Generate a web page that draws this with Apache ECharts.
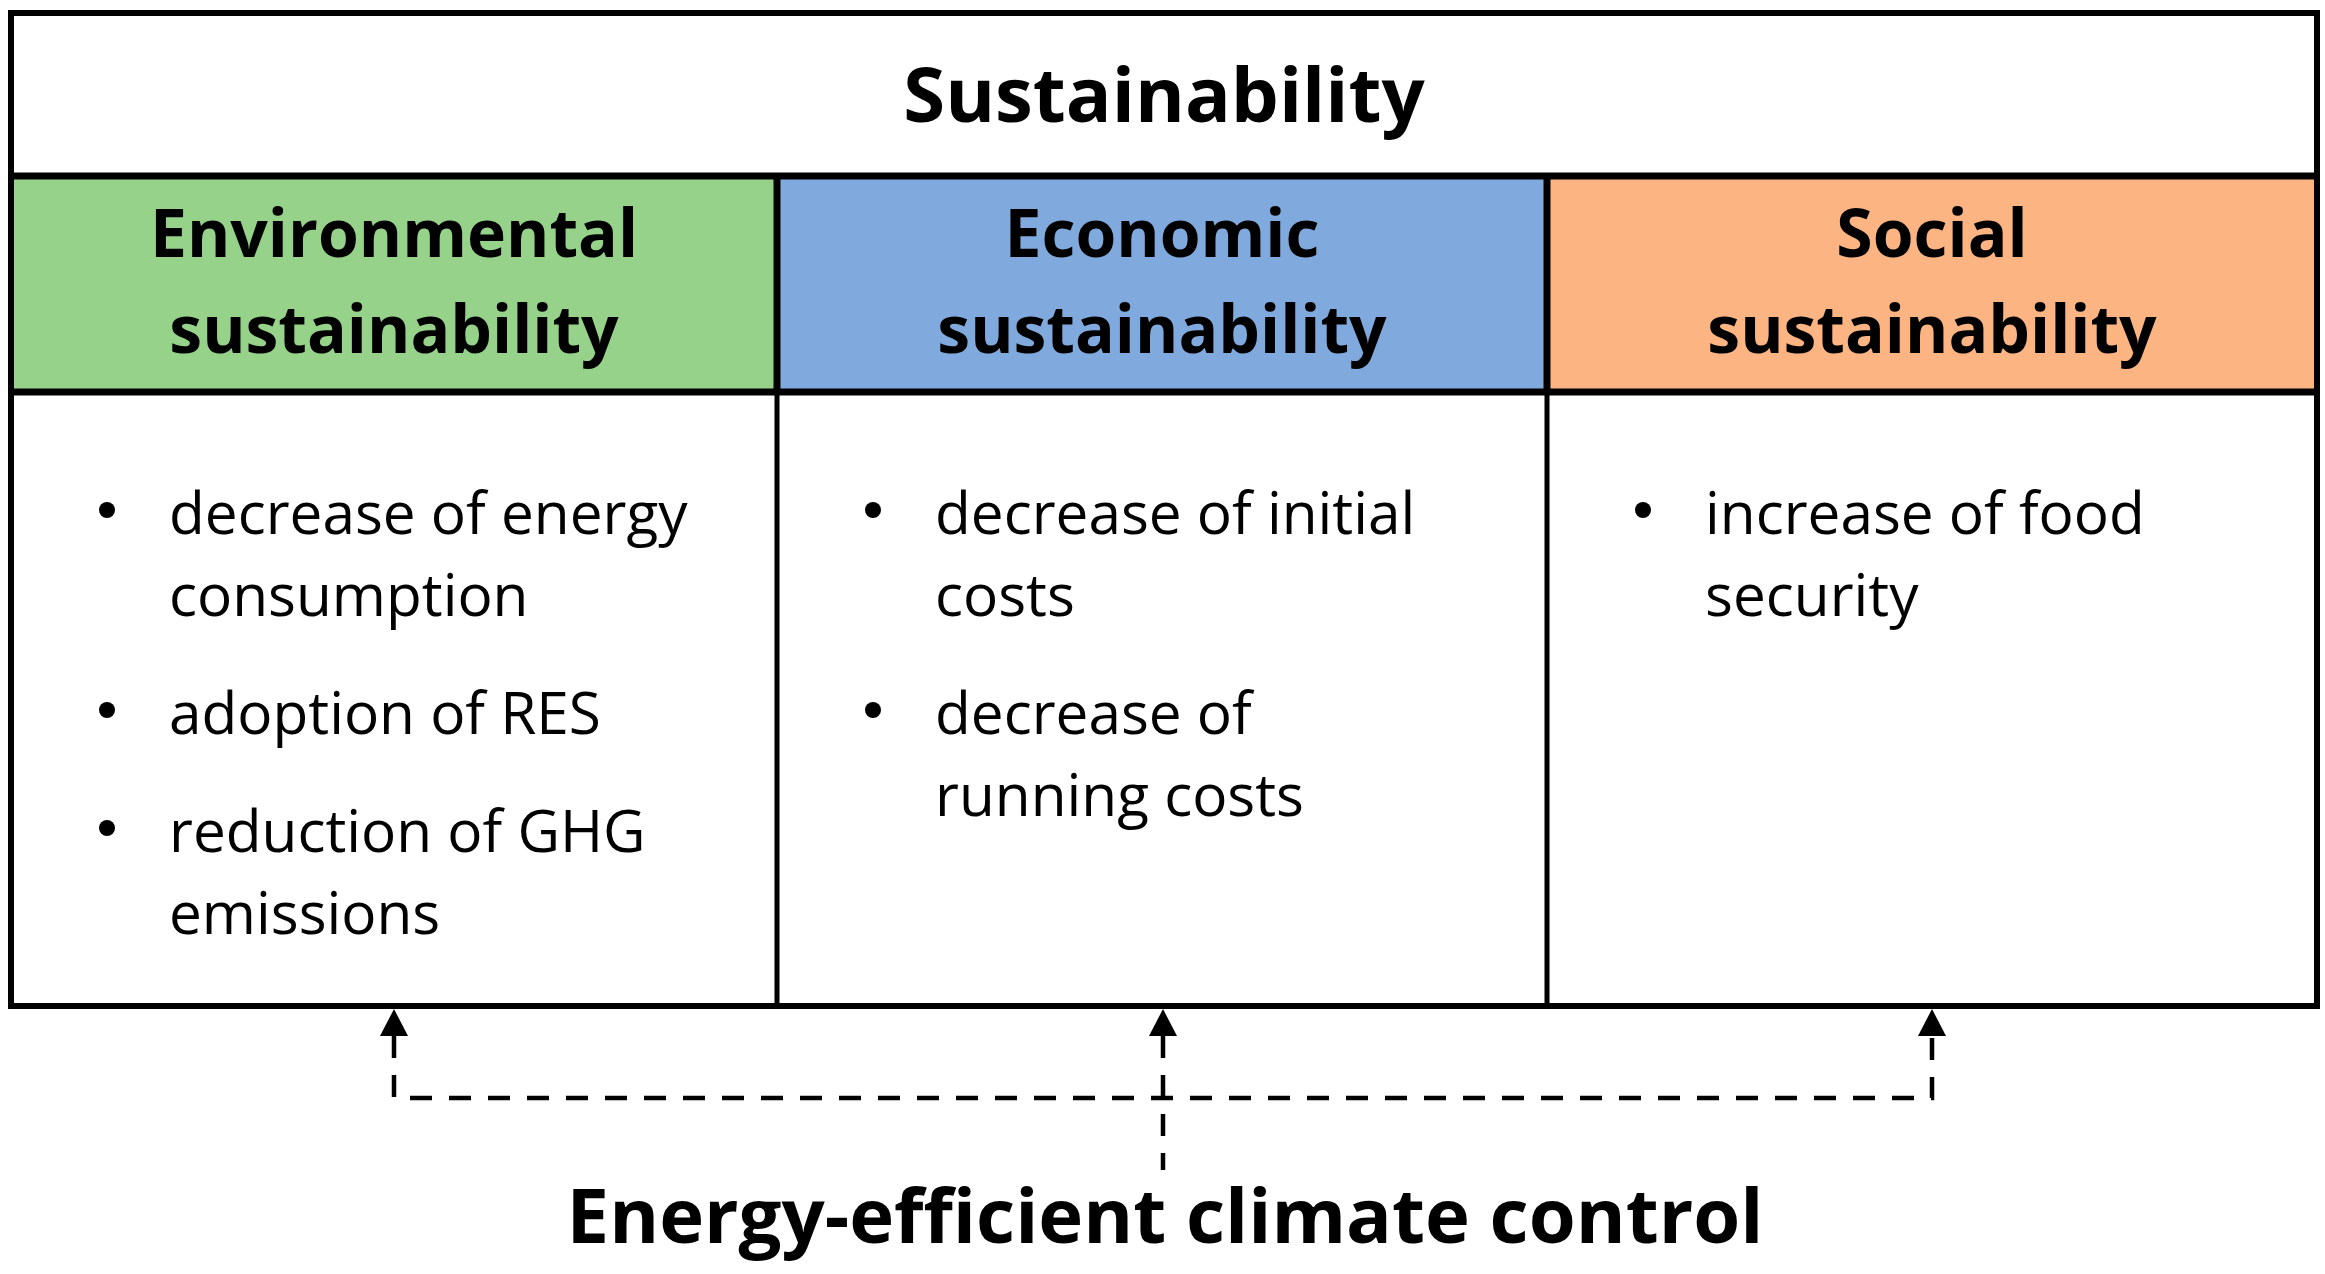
<!DOCTYPE html>
<html>
<head>
<meta charset="utf-8">
<script src="https://cdn.jsdelivr.net/npm/echarts@6/dist/echarts.min.js"></script>
<style>
html,body{margin:0;padding:0;background:#fff;}
#chart{width:2325px;height:1274px;}
</style>
</head>
<body>
<div id="chart"></div>
<script>
// ---- content ----
const titleText = 'Sustainability';
const headerLine1 = ['Environmental', 'Economic', 'Social'];
const headerLine2 = ['sustainability', 'sustainability', 'sustainability'];
const headerColors = ['#96D289', '#80AADE', '#FCB482'];
const envItems = [['decrease of energy', 'consumption'], ['adoption of RES'], ['reduction of GHG', 'emissions']];
const ecoItems = [['decrease of initial', 'costs'], ['decrease of', 'running costs']];
const socItems = [['increase of food', 'security']];
const bottomText = 'Energy-efficient climate control';

// ---- layout ----
const L = 11, R = 2317, T = 13, B = 1006;
const titleBottom = 176, headerBottom = 392;
const colX = [L, 777, 1547, R];
const FONT = '"Open Sans", "Noto Sans", sans-serif';

const chart = echarts.init(document.getElementById('chart'));
const g = [];

g.push({type: 'rect', shape: {x: 0, y: 0, width: 2325, height: 1274}, style: {fill: '#fff'}, z: 0});

// header fills
for (let i = 0; i < 3; i++) {
  g.push({type: 'rect', shape: {x: colX[i], y: titleBottom, width: colX[i + 1] - colX[i], height: headerBottom - titleBottom},
    style: {fill: headerColors[i]}, z: 1});
}

function line(x1, y1, x2, y2, w, dash) {
  g.push({type: 'line', shape: {x1, y1, x2, y2}, style: {stroke: '#000', lineWidth: w, lineDash: dash || null, lineCap: 'butt'}, z: 5});
}
// outer box
g.push({type: 'rect', shape: {x: L, y: T, width: R - L, height: B - T}, style: {fill: null, stroke: '#000', lineWidth: 6}, z: 6});
line(L, titleBottom, R, titleBottom, 7);
line(L, headerBottom, R, headerBottom, 7);
for (let i = 1; i < 3; i++) {
  line(colX[i], titleBottom, colX[i], headerBottom, 7);
  line(colX[i], headerBottom, colX[i], B, 5);
}

// place text by its baseline
function text(str, x, base, size, weight, align) {
  g.push({type: 'text', x: x, y: base - 0.38 * size + 7, style: {text: str, font: (weight || 'normal') + ' ' + size + 'px ' + FONT,
    fill: '#000', align: align || 'center', verticalAlign: 'middle'}, z: 10});
}

// title
text(titleText, 1164, 122, 76, 'bold');

// headers
for (let i = 0; i < 3; i++) {
  const cx = (colX[i] + colX[i + 1]) / 2;
  text(headerLine1[i], cx, 256, 66, 'bold');
  text(headerLine2[i], cx, 352, 66, 'bold');
}

// bullets
const bodySize = 58.5, firstBase = 533, lineStep = 82, itemGap = 36;
[envItems, ecoItems, socItems].forEach(function (items, ci) {
  let base = firstBase;
  items.forEach(function (lines) {
    g.push({type: 'circle', shape: {cx: colX[ci] + 96, cy: base - 23, r: 8}, style: {fill: '#000'}, z: 10});
    lines.forEach(function (ln) {
      text(ln, colX[ci] + 158, base, bodySize, 'normal', 'left');
      base += lineStep;
    });
    base += itemGap;
  });
});

// arrows
const arrowX = [394, 1163, 1932];
const headTip = 1009, headBase = 1036, hw = 14, dashY = 1098;
arrowX.forEach(function (x) {
  g.push({type: 'polygon', shape: {points: [[x, headTip], [x - hw, headBase], [x + hw, headBase]]}, style: {fill: '#000'}, z: 10});
});
g.push({type: 'polyline', shape: {points: [[arrowX[0], headBase], [arrowX[0], dashY], [arrowX[2], dashY], [arrowX[2], headBase]]},
  style: {stroke: '#000', lineWidth: 4.5, lineDash: [22, 17], fill: null}, z: 5});
line(arrowX[1], headBase, arrowX[1], 1170, 4.5, [22, 17]);

// bottom label
text(bottomText, 1165, 1243, 76, 'bold');

chart.setOption({animation: false, graphic: {elements: g}});
</script>
</body>
</html>
